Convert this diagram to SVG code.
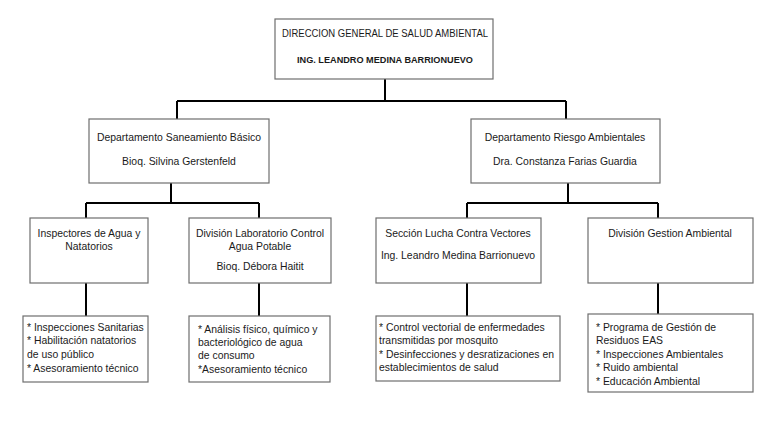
<svg xmlns="http://www.w3.org/2000/svg" width="768" height="432" viewBox="0 0 768 432">
<style>
.box{fill:#fff;stroke:#6e6e6e;stroke-width:1.2}
.t{font-family:"Liberation Sans",Arial,sans-serif;font-size:10.4px;fill:#1a1a1a}
.c{text-anchor:middle}
.b{font-weight:bold}
.ln{fill:none;stroke:#000;stroke-width:2}
</style>
<rect width="768" height="432" fill="#fff"/>
<g id="connectors">
<path class="ln" d="M385 79 V101 M177 101 H566 M177 101 V119 M566 101 V119"/>
<path class="ln" d="M171 183 V203 M86 203 H259 M86 203 V218 M259 203 V218"/>
<path class="ln" d="M568 183 V203 M467 203 H658 M467 203 V218 M658 203 V218"/>
<path class="ln" d="M86 283 V316 M259 283 V316 M467 283 V316 M658 283 V314"/>
</g>
<g id="n-direccion">
<rect class="box" x="275" y="19" width="218" height="60"/>
<text class="t c" x="385" y="37" style="font-size:10px" textLength="206" lengthAdjust="spacingAndGlyphs">DIRECCION GENERAL DE SALUD AMBIENTAL</text>
<text class="t c b" x="385" y="63" style="font-size:9.6px" textLength="176" lengthAdjust="spacingAndGlyphs">ING. LEANDRO MEDINA BARRIONUEVO</text>
</g>
<g id="n-saneamiento">
<rect class="box" x="89" y="119" width="180" height="64"/>
<text class="t c" x="179" y="141">Departamento Saneamiento Básico</text>
<text class="t c" x="179" y="165">Bioq. Silvina Gerstenfeld</text>
</g>
<g id="n-riesgo">
<rect class="box" x="471" y="119" width="189" height="64"/>
<text class="t c" x="565" y="141">Departamento Riesgo Ambientales</text>
<text class="t c" x="565" y="165">Dra. Constanza Farias Guardia</text>
</g>
<g id="n-inspectores">
<rect class="box" x="30" y="218" width="118" height="65"/>
<text class="t c" x="89" y="237">Inspectores de Agua y</text>
<text class="t c" x="89" y="250">Natatorios</text>
</g>
<g id="n-laboratorio">
<rect class="box" x="189" y="218" width="142" height="65"/>
<text class="t c" x="260" y="237">División Laboratorio Control</text>
<text class="t c" x="260" y="250">Agua Potable</text>
<text class="t c" x="260" y="270">Bioq. Débora Haitit</text>
</g>
<g id="n-vectores">
<rect class="box" x="376" y="218" width="165" height="65"/>
<text class="t c" x="458" y="237">Sección Lucha Contra Vectores</text>
<text class="t c" x="458" y="259">Ing. Leandro Medina Barrionuevo</text>
</g>
<g id="n-gestion">
<rect class="box" x="588" y="218" width="165" height="65"/>
<text class="t c" x="670" y="237">División Gestion Ambiental</text>
</g>
<g id="n-inspectores-tareas">
<rect class="box" x="23" y="316" width="125" height="66"/>
<text class="t" x="27" y="331">* Inspecciones Sanitarias</text>
<text class="t" x="27" y="344">* Habilitación natatorios</text>
<text class="t" x="27" y="358">de uso público</text>
<text class="t" x="27" y="372">* Asesoramiento técnico</text>
</g>
<g id="n-laboratorio-tareas">
<rect class="box" x="189" y="316" width="141" height="66"/>
<text class="t" x="198" y="333">* Análisis físico, químico y</text>
<text class="t" x="198" y="346">bacteriológico de agua</text>
<text class="t" x="198" y="359">de consumo</text>
<text class="t" x="198" y="373">*Asesoramiento técnico</text>
</g>
<g id="n-vectores-tareas">
<rect class="box" x="376" y="316" width="184" height="65"/>
<text class="t" x="379" y="331">* Control vectorial de enfermedades</text>
<text class="t" x="379" y="344">transmitidas por mosquito</text>
<text class="t" x="379" y="358">* Desinfecciones y desratizaciones en</text>
<text class="t" x="379" y="371">establecimientos de salud</text>
</g>
<g id="n-gestion-tareas">
<rect class="box" x="588" y="314" width="165" height="78"/>
<text class="t" x="596" y="331">* Programa de Gestión de</text>
<text class="t" x="596" y="344">Residuos EAS</text>
<text class="t" x="596" y="358">* Inspecciones Ambientales</text>
<text class="t" x="596" y="371">* Ruido ambiental</text>
<text class="t" x="596" y="385">* Educación Ambiental</text>
</g>
</svg>
